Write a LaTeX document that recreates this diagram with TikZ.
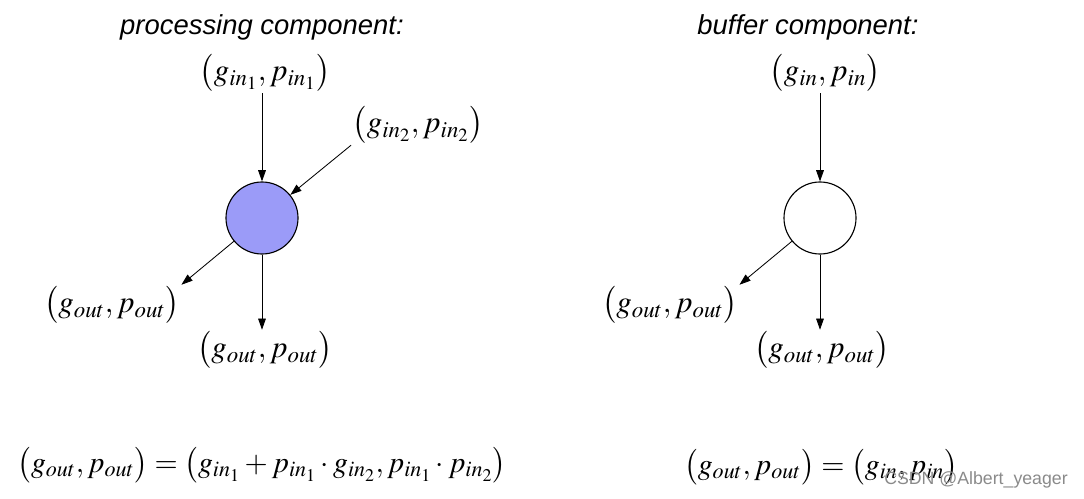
\documentclass[tikz,border=0pt]{standalone}
\usepackage{mathptmx}
\usepackage{fontspec}
\setsansfont{Liberation Sans}
\usepackage{tikz}
\usetikzlibrary{arrows.meta, positioning}
\definecolor{procfill}{HTML}{9B9BF8}
\definecolor{markgray}{HTML}{8A8A8A}

\begin{document}
\begin{tikzpicture}[x=0.025cm, y=-0.025cm,
  comp/.style={circle, draw, line width=0.8pt, minimum size=1.8cm, inner sep=0pt},
  lbl/.style={inner sep=1pt, font=\fontsize{22}{26}\selectfont},
  eqn/.style={inner sep=0pt, font=\fontsize{21.2}{25}\selectfont},
  ttl/.style={inner sep=0pt, font=\fontsize{19.5}{23}\selectfont\sffamily\itshape},
  arr/.style={-{Triangle[length=8pt, width=5.5pt]}, line width=0.6pt}]
  \useasboundingbox (0,0) rectangle (1084,499);
  % processing component
  \node[ttl] (ptitle) at (262,27) {processing component:};
  \node[lbl] (pin1) at (265,73) {$\bigl(g_{in_1},p_{in_1}\bigr)$};
  \node[lbl] (pin2) at (418,125) {$\bigl(g_{in_2},p_{in_2}\bigr)$};
  \node[comp, fill=procfill] (proc) at (262,218) {};
  \node[lbl] (pleft) at (112,305) {$\bigl(g_{out},p_{out}\bigr)$};
  \node[lbl] (pdown) at (265,350) {$\bigl(g_{out},p_{out}\bigr)$};
  \draw[arr] (pin1.south -| proc.north) -- (proc.north);
  \draw[arr] (pin2.south west) -- (proc);
  \draw[arr] (proc) -- (pleft.north east);
  \draw[arr] (proc.south) -- (proc.south |- pdown.north);
  \node[eqn] (peq) at (262,465)
      {$\bigl(g_{out},p_{out}\bigr)=\bigl(g_{in_1}+p_{in_1}\cdot g_{in_2},p_{in_1}\cdot p_{in_2}\bigr)$};
  % buffer component
  \node[ttl] (btitle) at (808,27) {buffer component:};
  \node[lbl] (bin) at (825,73) {$\bigl(g_{in},p_{in}\bigr)$};
  \node[comp] (buf) at (820,218) {};
  \node[lbl] (bleft) at (670,305) {$\bigl(g_{out},p_{out}\bigr)$};
  \node[lbl] (bdown) at (822,350) {$\bigl(g_{out},p_{out}\bigr)$};
  \draw[arr] (bin.south -| buf.north) -- (buf.north);
  \draw[arr] (buf) -- (bleft.north east);
  \draw[arr] (buf.south) -- (buf.south |- bdown.north);
  \node[eqn] (beq) at (821,467) {$\bigl(g_{out},p_{out}\bigr)=\bigl(g_{in},p_{in}\bigr)$};
  \node[font=\fontsize{12.6}{15}\selectfont\sffamily, text=markgray] (mark) at (976,480) {CSDN @Albert\_yeager};
\end{tikzpicture}
\end{document}
